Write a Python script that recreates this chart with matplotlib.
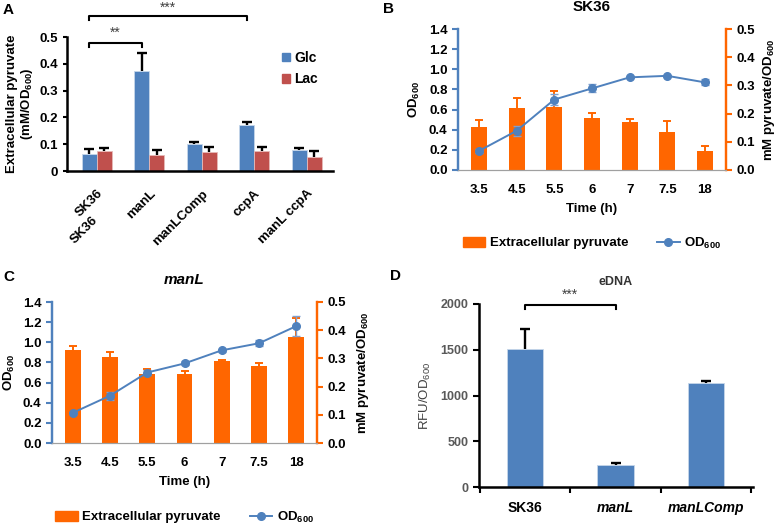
import matplotlib
matplotlib.use("Agg")
import matplotlib.pyplot as plt
import matplotlib.transforms as mtransforms
from matplotlib.patches import Patch
from matplotlib.lines import Line2D
import numpy as np

plt.rcParams['font.family'] = ['Liberation Sans', 'DejaVu Sans']
plt.rcParams['font.weight'] = 'bold'
plt.rcParams['axes.labelweight'] = 'bold'
plt.rcParams['mathtext.default'] = 'regular'

W, H = 777, 526

# panel A data
strains_a = ['SK36', 'manL', 'manLComp', 'ccpA', 'manL ccpA']
glc = [0.065, 0.372, 0.101, 0.170, 0.080]
glc_err = [0.016, 0.068, 0.009, 0.013, 0.006]
lac = [0.075, 0.058, 0.071, 0.074, 0.054]
lac_err = [0.011, 0.021, 0.017, 0.015, 0.022]

# panels B / C data
times = ['3.5', '4.5', '5.5', '6', '7', '7.5', '18']
pyr_sk36 = [0.154, 0.219, 0.223, 0.184, 0.169, 0.135, 0.066]
pyr_sk36_err = [0.024, 0.038, 0.058, 0.017, 0.011, 0.040, 0.019]
od_sk36 = [0.19, 0.39, 0.70, 0.81, 0.92, 0.935, 0.87]
od_sk36_err = [0.02, 0.05, 0.05, 0.04, 0.01, 0.01, 0.03]
pyr_manl = [0.329, 0.305, 0.243, 0.246, 0.291, 0.273, 0.376]
pyr_manl_err = [0.014, 0.018, 0.021, 0.009, 0.005, 0.011, 0.068]
od_manl = [0.30, 0.47, 0.70, 0.79, 0.92, 0.99, 1.16]
od_manl_err = [0.01, 0.04, 0.02, 0.02, 0.015, 0.03, 0.10]

# panel D data
strains_d = ['SK36', 'manL', 'manLComp']
edna = [1506, 241, 1133]
edna_err = [220, 22, 30]

BLUE = '#4F81BD'
RED = '#C0504D'
ORANGE = '#FF6600'


def add_ax(left, top, right, bottom):
    return fig.add_axes([left / W, 1 - bottom / H, (right - left) / W, (bottom - top) / H])


def up_err(ax, x, y, err, color, lw, cap, z=3):
    # one-sided error bar with a cap only at the top
    x = np.asarray(x, float)
    y = np.asarray(y, float)
    err = np.asarray(err, float)
    ax.vlines(x, y, y + err, color=color, lw=lw, zorder=z)
    ax.plot(x, y + err, ls='none', marker='_', ms=cap, mew=lw, color=color, zorder=z)


fig = plt.figure(figsize=(W / 100, H / 100), dpi=100)

# ---------------- A ----------------
ax = add_ax(67, 37, 333, 171)
x = np.arange(len(strains_a))
bw = 0.285
ax.bar(x - bw / 2, glc, bw, color=BLUE, edgecolor='#C6D6EA', linewidth=0.6)
ax.bar(x + bw / 2, lac, bw, color=RED, edgecolor='#E6B9B8', linewidth=0.6)
up_err(ax, x - bw / 2, glc, glc_err, 'black', 1.7, 7)
up_err(ax, x + bw / 2, lac, lac_err, 'black', 1.7, 7)
ax.set_xlim(-0.57, 4.5)
ax.set_ylim(0, 0.5)
ax.set_yticks([0, 0.1, 0.2, 0.3, 0.4, 0.5])
ax.set_yticklabels(['0', '0.1', '0.2', '0.3', '0.4', '0.5'])
ax.tick_params(axis='y', labelsize=9.5, length=3, width=1.5)
ax.set_xticks(x)
ax.set_xticklabels(strains_a, rotation=45, ha='right', rotation_mode='anchor', fontsize=9.5)
ax.tick_params(axis='x', length=0, pad=12)
off = mtransforms.offset_copy(ax.transData, fig=fig, x=-5, y=-43, units='dots')
ax.text(0, 0, 'SK36', transform=off, rotation=45, ha='right', va='top',
        rotation_mode='anchor', fontsize=9.5)
for s in ['top', 'right']:
    ax.spines[s].set_visible(False)
ax.spines['left'].set_linewidth(1.8)
ax.spines['bottom'].set_linewidth(1.8)
ax.set_ylabel('Extracellular pyruvate\n(mM/OD$_{600}$)', fontsize=9.5, linespacing=1.1)
ax.yaxis.set_label_coords((35 - 67) / (333 - 67), 0.5)
# significance brackets
xa, xb, xc = 0 - bw / 2, 1 - bw / 2, 3 - bw / 2
ax.plot([xa, xa, xb, xb], [0.463, 0.478, 0.478, 0.463], color='black', lw=1.5, clip_on=False)
ax.text((xa + xb) / 2, 0.49, '**', ha='center', va='bottom', fontsize=10, fontweight='normal', color='#404040')
ax.plot([xa, xa, xc, xc], [0.563, 0.578, 0.578, 0.563], color='black', lw=1.5, clip_on=False)
ax.text((xa + xc) / 2, 0.583, '***', ha='center', va='bottom', fontsize=10, fontweight='normal', color='#404040')
ax.legend(handles=[Patch(color=BLUE, label='Glc'), Patch(color=RED, label='Lac')],
          loc='upper left', bbox_to_anchor=(0.76, 0.99), frameon=False, fontsize=10,
          handlelength=0.6, handleheight=0.6, handletextpad=0.3, labelspacing=0.55)
fig.text(3 / W, 1 - 10 / H, 'A', fontsize=11, fontweight='bold', va='center')


# ---------------- B / C ----------------
def time_panel(rect, pyr, pyr_err, od, od_err, title, title_style, lab_left_x, lab_right_x, legend_y):
    ax = add_ax(*rect)
    ax2 = ax.twinx()
    xt = np.arange(len(times))
    ax2.bar(xt, pyr, 0.42, color=ORANGE)
    up_err(ax2, xt, pyr, pyr_err, ORANGE, 1.4, 6)
    ax.errorbar(xt, od, yerr=od_err, color=BLUE, lw=1.4, marker='o', ms=5.5,
                ecolor='#7F9FCF', elinewidth=1.0, capsize=3, capthick=1.0)
    ax.set_zorder(ax2.get_zorder() + 1)
    ax.patch.set_visible(False)
    ax.set_xlim(-0.56, 6.56)
    ax.set_ylim(0, 1.4)
    ax2.set_ylim(0, 0.5)
    ax.set_yticks(np.arange(0, 1.41, 0.2))
    ax.set_yticklabels(['%.1f' % v for v in np.arange(0, 1.41, 0.2)])
    ax2.set_yticks(np.arange(0, 0.51, 0.1))
    ax2.set_yticklabels(['%.1f' % v for v in np.arange(0, 0.51, 0.1)])
    ax.set_xticks(xt)
    ax.set_xticklabels(times)
    ax.tick_params(axis='x', length=0, labelsize=9.5, pad=10)
    ax.tick_params(axis='y', labelsize=9.5, color=BLUE, length=4, width=1.5)
    ax2.tick_params(axis='y', labelsize=9.5, color=ORANGE, length=4, width=1.5)
    for a in (ax, ax2):
        a.spines['top'].set_visible(False)
        a.spines['left'].set_color(BLUE)
        a.spines['left'].set_linewidth(1.6)
        a.spines['right'].set_color(ORANGE)
        a.spines['right'].set_linewidth(1.6)
        a.spines['bottom'].set_color('#A0A0A0')
        a.spines['bottom'].set_linewidth(0.8)
    ax.set_xlabel('Time (h)', fontsize=9.5, labelpad=5)
    ax.set_ylabel('OD$_{600}$', fontsize=9.5)
    ax2.set_ylabel('mM pyruvate/OD$_{600}$', fontsize=9.5)
    width = rect[2] - rect[0]
    ax.yaxis.set_label_coords((lab_left_x - rect[0]) / width, 0.5)
    ax2.yaxis.set_label_coords((lab_right_x - rect[0]) / width, 0.5)
    ax.set_title(title, fontsize=11, fontweight='bold', style=title_style, pad=13)
    handles = [Patch(color=ORANGE, label='Extracellular pyruvate'),
               Line2D([], [], color=BLUE, marker='o', ms=5.5, lw=1.4, label='OD$_{600}$')]
    ax.legend(handles=handles, loc='center', ncol=2, frameon=False, fontsize=9.5,
              bbox_to_anchor=(0.5, (rect[3] - legend_y) / (rect[3] - rect[1])),
              handlelength=1.7, handleheight=0.75, columnspacing=2.2, handletextpad=0.35)
    return ax


time_panel((458, 29, 726, 170), pyr_sk36, pyr_sk36_err, od_sk36, od_sk36_err,
           'SK36', 'normal', 422, 761, 243)
fig.text(383 / W, 1 - 9 / H, 'B', fontsize=11, fontweight='bold', va='center')

time_panel((52, 302, 317, 443), pyr_manl, pyr_manl_err, od_manl, od_manl_err,
           'manL', 'italic', 17, 355, 517)
fig.text(3 / W, 1 - 277 / H, 'C', fontsize=11, fontweight='bold', va='center')

# ---------------- D ----------------
ax = add_ax(479, 304, 753, 487)
xd = np.arange(len(strains_d))
ax.bar(xd, edna, 0.4, color=BLUE, edgecolor='#C6D6EA', linewidth=0.6)
up_err(ax, xd, edna, edna_err, 'black', 1.7, 7)
ax.set_xlim(-0.51, 2.52)
ax.set_ylim(0, 2000)
ax.set_yticks([0, 500, 1000, 1500, 2000])
ax.tick_params(axis='y', labelsize=9, labelcolor='#595959', length=4, width=1.5)
ax.set_xticks([-0.5, 0.5, 1.5, 2.5])
ax.set_xticklabels([])
ax.set_xticks(xd, minor=True)
ax.set_xticklabels(strains_d, minor=True, fontsize=10)
for i, lab in enumerate(ax.get_xticklabels(minor=True)):
    if i > 0:
        lab.set_style('italic')
ax.tick_params(axis='x', which='major', length=4, width=1.5, direction='out')
ax.tick_params(axis='x', which='minor', length=0, pad=10)
for s in ['top', 'right']:
    ax.spines[s].set_visible(False)
ax.spines['left'].set_linewidth(1.8)
ax.spines['bottom'].set_linewidth(1.8)
ax.set_ylabel('RFU/OD$_{600}$', fontsize=9.5, fontweight='normal', color='#404040')
ax.yaxis.set_label_coords((433 - 479) / (753 - 479), 0.5)
ax.set_title('eDNA', fontsize=9, fontweight='bold', color='#333333', pad=14)
ax.plot([0, 0, 1, 1], [1950, 1990, 1990, 1950], color='black', lw=1.5, clip_on=False)
ax.text(0.5, 2020, '***', ha='center', va='bottom', fontsize=10, fontweight='normal', color='#404040')
fig.text(390 / W, 1 - 276 / H, 'D', fontsize=11, fontweight='bold', va='center')

fig.savefig('out.png', dpi=100)
